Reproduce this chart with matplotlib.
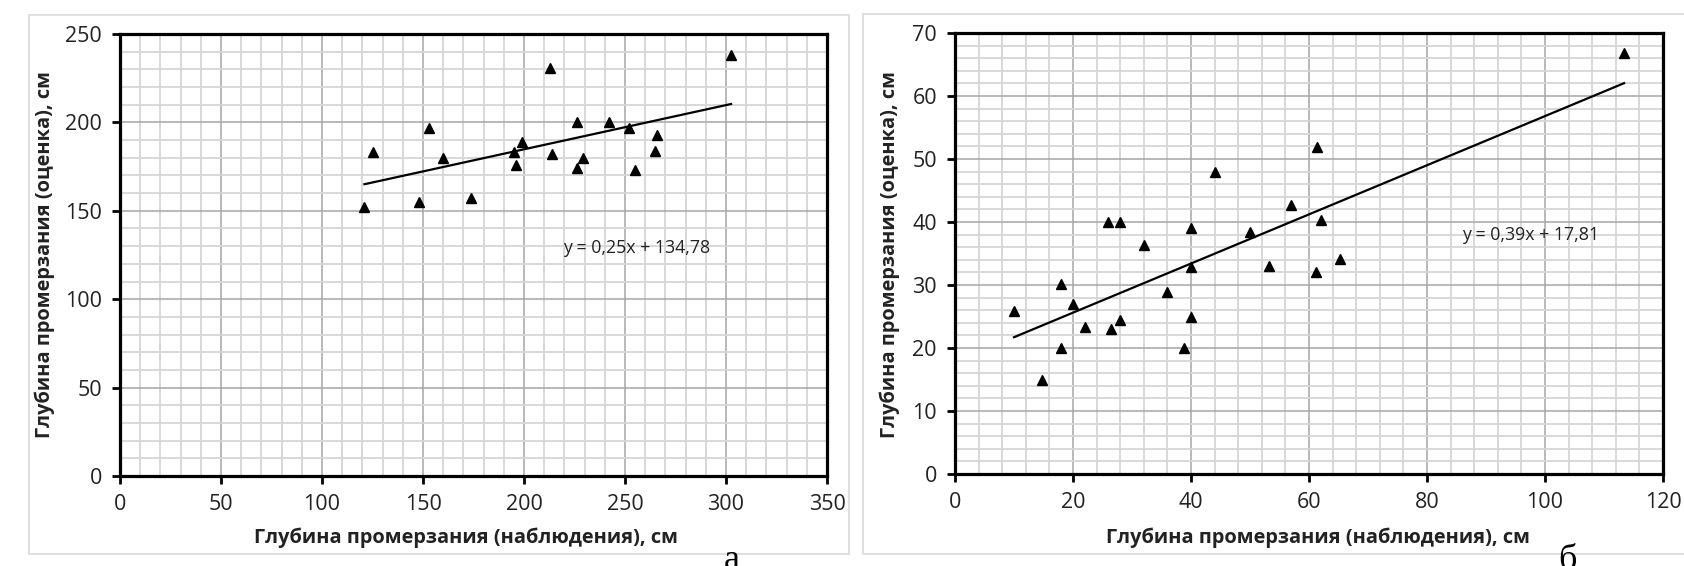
import matplotlib
matplotlib.use("Agg")
import matplotlib.pyplot as plt
from matplotlib.ticker import MultipleLocator
from matplotlib.patches import Rectangle
import numpy as np

plt.rcParams['font.family'] = ['Open Sans', 'DejaVu Sans']

# (а) observed vs estimated freezing depth
obs_a = [121, 125, 148, 153, 160, 174, 195, 196, 199, 213, 214, 226, 226,
         229, 242, 252, 255, 265, 266, 302.5]
est_a = [152, 183, 155, 197, 180, 157, 183, 176, 189, 231, 182, 200, 174,
         180, 200, 197, 173, 184, 193, 238]
coef_a = (0.25, 134.78)
eq_a = "y = 0,25x + 134,78"

# (б)
obs_b = [10, 14.8, 18, 18, 20, 22, 26, 26.4, 28, 28, 32, 36, 38.8, 40, 40, 40,
         44, 50, 53.3, 57, 61.3, 61.2, 62, 65.3, 113.4]
est_b = [25.9, 14.9, 30.2, 20, 27, 23.4, 40, 23, 40, 24.4, 36.3, 28.9, 20, 39,
         32.8, 25, 47.9, 38.4, 33, 42.7, 51.9, 32, 40.3, 34.1, 66.8]
coef_b = (0.39, 17.81)
eq_b = "y = 0,39x + 17,81"

xlabel = "Глубина промерзания (наблюдения), см"
ylabel = "Глубина промерзания (оценка), см"

fig = plt.figure(figsize=(16.84, 5.66), dpi=100)

# chart area frames
fig.patches.append(Rectangle((29/1684, 1-554/566), 820/1684, 539/566,
                             transform=fig.transFigure, fill=False,
                             edgecolor='#d9d9d9', lw=1.2))
fig.patches.append(Rectangle((863/1684, 1-554/566), 830/1684, 540/566,
                             transform=fig.transFigure, fill=False,
                             edgecolor='#d9d9d9', lw=1.2))

ax1 = fig.add_axes([120/1684, 1-476/566, 707/1684, 442/566])
ax2 = fig.add_axes([955/1684, 1-474/566, 708/1684, 441/566])


def style(ax, xmax, ymax, xmaj, xmin, ymaj, ymin):
    ax.set_xlim(0, xmax)
    ax.set_ylim(0, ymax)
    ax.xaxis.set_major_locator(MultipleLocator(xmaj))
    ax.xaxis.set_minor_locator(MultipleLocator(xmin))
    ax.yaxis.set_major_locator(MultipleLocator(ymaj))
    ax.yaxis.set_minor_locator(MultipleLocator(ymin))
    ax.grid(which='minor', color='#d6d6d6', lw=1.3, zorder=0)
    ax.grid(which='major', color='#a6a6a6', lw=1.1, zorder=0)
    ax.set_axisbelow(True)
    for s in ax.spines.values():
        s.set_linewidth(2.3)
        s.set_color('black')
    ax.tick_params(which='major', direction='out', length=6, width=2,
                   labelsize=15.5, pad=7, colors='black', labelcolor='#222222')
    ax.tick_params(which='minor', length=0)


style(ax1, 350, 250, 50, 10, 50, 10)
style(ax2, 120, 70, 20, 4, 10, 2)

for ax, xs, ys, (k, b), eq, tx, ty in [
        (ax1, obs_a, est_a, coef_a, eq_a, 219.3, 129),
        (ax2, obs_b, est_b, coef_b, eq_b, 86, 37.9)]:
    ax.plot(xs, ys, '^', color='black', ms=7, zorder=4, clip_on=False)
    xl = np.array([min(xs), max(xs)])
    ax.plot(xl, k * xl + b, color='black', lw=1.6, zorder=3)
    ax.text(tx, ty, eq, fontsize=12.8, ha='left', va='center', color='#222222')

# axis titles
fig.text(466/1684, 1-538/566, xlabel, ha='center', va='center',
         fontsize=14.4, fontweight='bold', color='#222222')
fig.text(1318/1684, 1-538/566, xlabel, ha='center', va='center',
         fontsize=14.4, fontweight='bold', color='#222222')
fig.text(45/1684, 1-255/566, ylabel, ha='center', va='center', rotation=90,
         fontsize=14.4, fontweight='bold', color='#222222')
fig.text(890/1684, 1-255/566, ylabel, ha='center', va='center', rotation=90,
         fontsize=14.4, fontweight='bold', color='#222222')

# panel letters (cut at the bottom edge, as in the source)
fig.text(732/1684, 1-569/566, "а", ha='center', va='baseline',
         fontsize=26, family='Liberation Serif')
fig.text(1567/1684, 1-569/566, "б", ha='center', va='baseline',
         fontsize=26, family='Liberation Serif')

fig.savefig("out.png", dpi=100)
